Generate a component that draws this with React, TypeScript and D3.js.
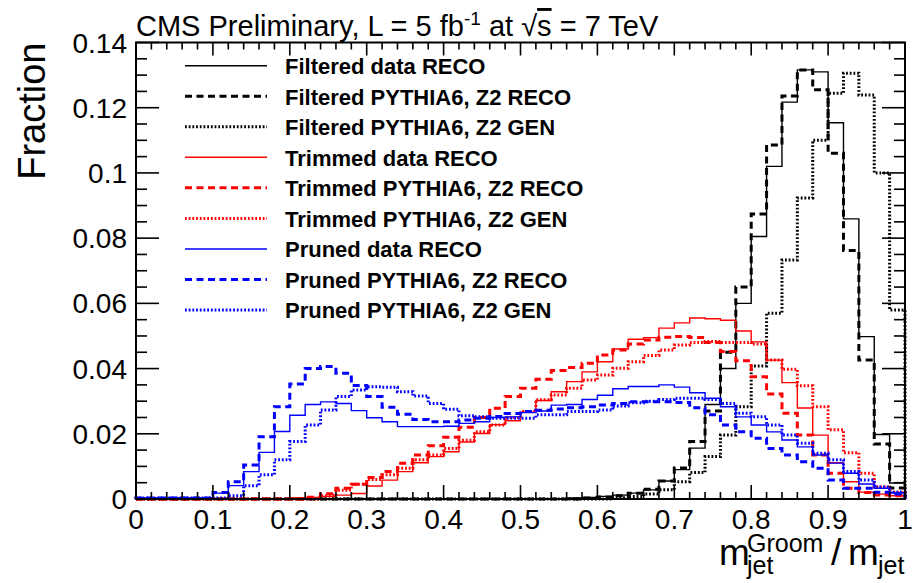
import React from 'react';
import * as d3 from 'd3';

// ---- data (fraction per bin, 50 bins of width 0.02 on [0,1]) ----
const binLow = 0;
const binWidth = 0.02;

const filteredData = [0,0,0,0,0, 0,0,0,0,0, 0,0,0,0,0, 0,0,0,0,0, 0,0,0,0,0, 0,0,0,0.0003,0.0005,
  0.0008,0.0012,0.0018,0.0028,0.0055, 0.009,0.0156,0.029,0.0400,0.0600,
  0.0805,0.1020,0.1217,0.1316,0.1310, 0.1154,0.0859,0.0498,0.0198,0.0049];
const filteredMC = [0,0,0,0,0, 0,0,0,0,0, 0,0,0,0,0, 0,0,0,0,0, 0,0,0,0,0, 0,0,0,0,0.0003,
  0.0006,0.001,0.0018,0.003,0.0055, 0.0095,0.0176,0.027,0.045,0.065,
  0.0874,0.1086,0.1236,0.1316,0.1255, 0.106,0.0762,0.0426,0.0169,0.0034];
const filteredGen = [0,0,0,0,0, 0,0,0,0,0, 0,0,0,0,0, 0,0,0,0,0, 0,0,0,0,0, 0,0,0,0,0,
  0,0.0004,0.0008,0.0015,0.0028, 0.0053,0.0081,0.013,0.0196,0.0283,
  0.0408,0.057,0.0733,0.0923,0.110, 0.1244,0.1306,0.1239,0.100,0.058];
const trimmedData = [0,0,0,0,0, 0,0,0,0,0, 0.0003,0.0005,0.0008,0.0012,0.0017,
  0.004,0.0058,0.0084,0.0111,0.013, 0.0145,0.0175,0.0201,0.0228,0.024,
  0.0266,0.0302,0.0329,0.036,0.039, 0.0421,0.046,0.049,0.0495,0.0524,
  0.054,0.0555,0.0553,0.0548,0.0515, 0.0482,0.0426,0.0357,0.0279,0.0196,
  0.0111,0.0053,0.0021,0.0015,0.001];
const trimmedMC = [0,0,0,0,0, 0,0,0,0,0, 0,0.0005,0.0016,0.0033,0.0045,
  0.0066,0.0084,0.011,0.0135,0.0163, 0.0189,0.022,0.025,0.0278,0.0314,
  0.034,0.0367,0.0394,0.0403,0.0416, 0.0442,0.0457,0.0475,0.0488,0.0496,
  0.0498,0.0495,0.048,0.0452,0.0424, 0.0375,0.0322,0.0263,0.0196,0.0135,
  0.0079,0.0033,0.002,0.0012,0.001];
const trimmedGen = [0,0,0,0,0, 0,0,0,0,0, 0,0,0.001,0.0027,0.0045,
  0.006,0.0074,0.0094,0.012,0.0135, 0.0155,0.018,0.0206,0.0227,0.025,
  0.0268,0.0304,0.0319,0.034,0.0365, 0.038,0.0401,0.0421,0.044,0.0457,
  0.0472,0.048,0.0483,0.048,0.048, 0.0475,0.0426,0.0398,0.0347,0.0283,
  0.0212,0.0142,0.0079,0.0037,0.0021];
const prunedData = [0.0003,0.0003,0.0003,0.0003,0.0003, 0.0018,0.0041,0.0084,0.0143,0.0207,
  0.0257,0.029,0.0298,0.0293,0.0271, 0.0249,0.0237,0.0222,0.0222,0.0222,
  0.0223,0.0232,0.0237,0.025,0.0252, 0.0265,0.027,0.0288,0.029,0.0305,
  0.0318,0.0338,0.0345,0.0345,0.035, 0.0343,0.0326,0.0309,0.0283,0.0252,
  0.0227,0.0206,0.0181,0.016,0.0135, 0.011,0.0079,0.0046,0.0033,0.0019];
const prunedMC = [0.0003,0.0003,0.0003,0.0003,0.0003, 0.002,0.0053,0.0104,0.0191,0.0283,
  0.0353,0.04,0.0406,0.0386,0.0348, 0.0314,0.0281,0.026,0.0244,0.0237,
  0.0237,0.0242,0.0248,0.0253,0.0262, 0.0268,0.0272,0.0276,0.028,0.0283,
  0.0288,0.0293,0.0298,0.0298,0.0298, 0.0296,0.028,0.0258,0.0227,0.0206,
  0.0186,0.0155,0.0135,0.0114,0.0094, 0.0058,0.0033,0.0033,0.0021,0.0015];
const prunedGen = [0.0003,0.0003,0.0003,0.0003,0.0003, 0.0003,0.001,0.0041,0.0074,0.012,
  0.0176,0.0227,0.0273,0.0314,0.0334, 0.0344,0.0343,0.0329,0.0316,0.0293,
  0.0275,0.0255,0.0252,0.0248,0.0248, 0.0248,0.0258,0.0258,0.0268,0.0268,
  0.0273,0.0285,0.0295,0.03,0.0305, 0.0309,0.0309,0.0305,0.0293,0.0263,
  0.0252,0.0227,0.0196,0.0171,0.014, 0.012,0.0084,0.0058,0.0037,0.0021];

const seriesNames = [
  'Filtered data RECO', 'Filtered PYTHIA6, Z2 RECO', 'Filtered PYTHIA6, Z2 GEN',
  'Trimmed data RECO', 'Trimmed PYTHIA6, Z2 RECO', 'Trimmed PYTHIA6, Z2 GEN',
  'Pruned data RECO', 'Pruned PYTHIA6, Z2 RECO', 'Pruned PYTHIA6, Z2 GEN',
];
const seriesValues = [filteredData, filteredMC, filteredGen, trimmedData, trimmedMC, trimmedGen, prunedData, prunedMC, prunedGen];
const seriesColors = ['#000000', '#000000', '#000000', '#ff0000', '#ff0000', '#ff0000', '#0000ff', '#0000ff', '#0000ff'];
const seriesStyles = ['solid', 'dashed', 'dotted', 'solid', 'dashed', 'dotted', 'solid', 'dashed', 'dotted'];

const xTicks = [0, 0.1, 0.2, 0.3, 0.4, 0.5, 0.6, 0.7, 0.8, 0.9, 1];
const xTickLabels = ['0', '0.1', '0.2', '0.3', '0.4', '0.5', '0.6', '0.7', '0.8', '0.9', '1'];
const yTicks = [0, 0.02, 0.04, 0.06, 0.08, 0.1, 0.12, 0.14];
const yTickLabels = ['0', '0.02', '0.04', '0.06', '0.08', '0.1', '0.12', '0.14'];

const FONT = '"Liberation Sans", Arial, Helvetica, sans-serif';

const lineStyle: Record<string, { w: number; dash?: string }> = {
  solid: { w: 1.4 },
  dashed: { w: 3, dash: '7 4.5' },
  dotted: { w: 3, dash: '1.8 1.9' },
};

export default function App() {
  const W = 913, H = 583;
  const x = d3.scaleLinear().domain([0, 1]).range([136, 905]);
  const y = d3.scaleLinear().domain([0, 0.14]).range([499, 42.5]);

  const line = d3.line<[number, number]>().x(d => x(d[0])).y(d => y(d[1]));
  const histPath = (vals: number[]) => {
    const pts: [number, number][] = [[binLow, 0]];
    vals.forEach((v, i) => {
      const lo = binLow + i * binWidth;
      pts.push([lo, v]);
      pts.push([lo + binWidth, v]);
    });
    pts.push([binLow + vals.length * binWidth, 0]);
    return line(pts) || '';
  };

  const xMinor = d3.range(0, 1.0001, 0.02);
  const yMinor = d3.range(0, 0.14001, 0.005);
  const [x0, x1] = x.range();
  const [y0, y1] = y.range();

  const legY = (k: number) => 65.7 + 30.54 * k;

  return (
    <svg width={W} height={H} style={{ position: 'absolute', left: 0, top: 0, background: '#fff' }} fontFamily={FONT}>
      <rect x={0} y={0} width={W} height={H} fill="#fff" />
      {/* histograms */}
      {seriesValues.map((vals, k) => (
        <path key={k} d={histPath(vals)} fill="none" stroke={seriesColors[k]}
          strokeWidth={lineStyle[seriesStyles[k]].w}
          strokeDasharray={lineStyle[seriesStyles[k]].dash}
          strokeLinejoin="miter" />
      ))}
      {/* frame */}
      <rect x={x0} y={y1} width={x1 - x0} height={y0 - y1} fill="none" stroke="#000" strokeWidth={2} />
      {/* x ticks */}
      {xMinor.map((v, i) => {
        const major = i % 5 === 0;
        const px = x(v);
        return (
          <g key={'xt' + i}>
            <line x1={px} x2={px} y1={y0} y2={y0 - (major ? 14 : 7)} stroke="#000" strokeWidth={1.6} />
            <line x1={px} x2={px} y1={y1} y2={y1 + (major ? 13 : 7)} stroke="#000" strokeWidth={1.6} />
          </g>
        );
      })}
      {yMinor.map((v, i) => {
        const major = i % 4 === 0;
        const py = y(v);
        return (
          <g key={'yt' + i}>
            <line x1={x0} x2={x0 + (major ? 23 : 11)} y1={py} y2={py} stroke="#000" strokeWidth={1.6} />
            <line x1={x1} x2={x1 - (major ? 23 : 11)} y1={py} y2={py} stroke="#000" strokeWidth={1.6} />
          </g>
        );
      })}
      {xTicks.map((v, i) => (
        <text key={'xl' + i} x={x(v)} y={528.5} fontSize={28} textAnchor="middle">{xTickLabels[i]}</text>
      ))}
      {yTicks.map((v, i) => (
        <text key={'yl' + i} x={127} y={y(v) + 10} fontSize={28} textAnchor="end">{yTickLabels[i]}</text>
      ))}
      {/* axis titles */}
      <text transform={`translate(45,${y1}) rotate(-90)`} fontSize={38} textAnchor="end">Fraction</text>
      <text x={719} y={565} fontSize={37}>m</text>
      <text x={747} y={552} fontSize={25}>Groom</text>
      <text x={747} y={574} fontSize={25}>jet</text>
      <text x={831} y={565} fontSize={37}>/</text>
      <text x={848} y={565} fontSize={37}>m</text>
      <text x={878} y={574} fontSize={25}>jet</text>
      {/* title */}
      <text x={136} y={36} fontSize={29}>
        <tspan>CMS Preliminary, L = 5 fb</tspan>
        <tspan fontSize={19} dy={-11}>-1</tspan>
        <tspan dy={11}> at </tspan>
        <tspan>√</tspan>
        <tspan style={{ textDecoration: 'overline' }}>s</tspan>
        <tspan> = 7 TeV</tspan>
      </text>
      {/* legend */}
      {seriesNames.map((name, k) => (
        <g key={'lg' + k}>
          <line x1={185} x2={267} y1={legY(k)} y2={legY(k)} stroke={seriesColors[k]}
            strokeWidth={lineStyle[seriesStyles[k]].w} strokeDasharray={lineStyle[seriesStyles[k]].dash} />
          <text x={285} y={legY(k) + 8.3} fontSize={22} fontWeight="bold">{name}</text>
        </g>
      ))}
    </svg>
  );
}
